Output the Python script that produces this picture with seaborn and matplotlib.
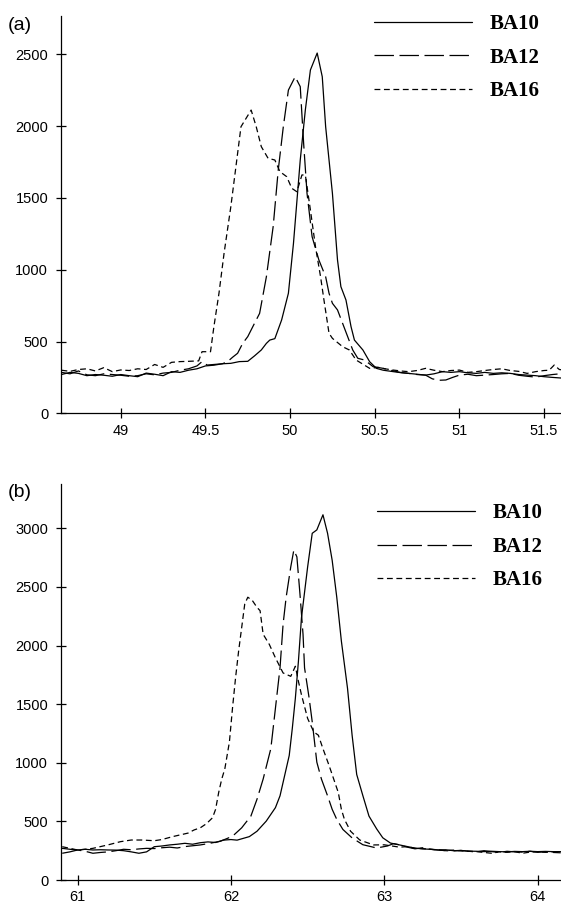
# XRD peak comparison, two panels
import matplotlib
import seaborn as sns
from matplotlib import font_manager

matplotlib.use("Agg")
import matplotlib.pyplot as plt

names = ["BA10", "BA12", "BA16"]

# panel (a)
x10a = [48.65, 48.70, 48.75, 48.80, 48.85, 48.90, 48.95, 49.00, 49.05, 49.10, 49.15, 49.20, 49.25, 49.30,
        49.35, 49.40, 49.45, 49.50, 49.55, 49.60, 49.65, 49.70, 49.75, 49.79, 49.83, 49.86, 49.88, 49.91,
        49.95, 49.99, 50.02, 50.06, 50.09, 50.12, 50.16, 50.19, 50.21, 50.25, 50.28, 50.30, 50.33, 50.36,
        50.38, 50.43, 50.47, 50.51, 50.55, 50.61, 50.66, 50.70, 50.75, 50.80, 50.85, 50.90, 50.95, 51.00,
        51.05, 51.10, 51.15, 51.20, 51.25, 51.30, 51.35, 51.40, 51.45, 51.50, 51.55, 51.62]
y10a = [270, 285, 278, 262, 270, 265, 258, 270, 262, 255, 280, 272, 262, 290, 285, 300, 310, 330, 335, 345,
        348, 360, 362, 400, 441, 487, 510, 520, 650, 836, 1184, 1764, 2112, 2391, 2509, 2344, 1996, 1532,
        1068, 882, 789, 603, 510, 441, 359, 313, 300, 290, 282, 278, 272, 266, 275, 290, 285, 290, 282, 278,
        285, 278, 282, 278, 270, 266, 262, 255, 250, 244]

x12a = [48.65, 48.70, 48.75, 48.80, 48.85, 48.90, 48.95, 49.00, 49.05, 49.10, 49.15, 49.20, 49.25, 49.30,
        49.35, 49.40, 49.45, 49.48, 49.51, 49.55, 49.60, 49.63, 49.66, 49.69, 49.72, 49.75, 49.79, 49.82,
        49.86, 49.90, 49.93, 49.96, 49.99, 50.03, 50.06, 50.08, 50.10, 50.13, 50.17, 50.21, 50.23, 50.25,
        50.28, 50.31, 50.34, 50.37, 50.40, 50.44, 50.49, 50.55, 50.60, 50.65, 50.70, 50.75, 50.80, 50.84,
        50.88, 50.92, 50.96, 51.00, 51.05, 51.10, 51.15, 51.20, 51.25, 51.30, 51.35, 51.40, 51.45, 51.50,
        51.55, 51.62]
y12a = [285, 275, 295, 268, 262, 275, 270, 265, 258, 262, 275, 268, 280, 285, 300, 310, 330, 360, 336, 340,
        345, 359, 390, 418, 487, 534, 627, 696, 951, 1300, 1694, 1996, 2251, 2344, 2275, 1880, 1532, 1230,
        1068, 951, 836, 766, 720, 627, 534, 441, 383, 371, 325, 313, 298, 285, 278, 270, 266, 240, 230, 232,
        250, 266, 272, 262, 266, 270, 275, 278, 265, 258, 252, 262, 270, 278]

x16a = [48.65, 48.70, 48.75, 48.80, 48.85, 48.90, 48.95, 49.00, 49.05, 49.10, 49.15, 49.20, 49.25, 49.30,
        49.35, 49.40, 49.46, 49.48, 49.53, 49.55, 49.58, 49.61, 49.65, 49.68, 49.71, 49.74, 49.77, 49.80,
        49.83, 49.87, 49.91, 49.94, 49.98, 50.01, 50.04, 50.07, 50.09, 50.12, 50.15, 50.18, 50.20, 50.23,
        50.25, 50.31, 50.35, 50.39, 50.47, 50.52, 50.56, 50.61, 50.66, 50.70, 50.75, 50.80, 50.85, 50.90,
        50.95, 51.00, 51.05, 51.10, 51.15, 51.20, 51.25, 51.30, 51.35, 51.40, 51.45, 51.50, 51.53, 51.56,
        51.59, 51.62]
y16a = [300, 292, 305, 310, 295, 318, 290, 302, 298, 310, 305, 340, 320, 355, 360, 362, 365, 429, 429, 603,
        836, 1114, 1439, 1717, 1996, 2054, 2112, 1996, 1857, 1776, 1764, 1683, 1648, 1567, 1543, 1660, 1660,
        1416, 1160, 951, 789, 557, 522, 464, 441, 371, 313, 320, 310, 301, 294, 290, 298, 313, 300, 290, 298,
        301, 285, 290, 298, 305, 310, 298, 292, 278, 290, 298, 300, 336, 305, 300]

# panel (b)
x10b = [60.90, 60.95, 61.00, 61.05, 61.10, 61.15, 61.20, 61.25, 61.30, 61.35, 61.40, 61.45, 61.50, 61.55,
        61.60, 61.65, 61.70, 61.75, 61.80, 61.85, 61.90, 61.95, 62.00, 62.04, 62.08, 62.12, 62.17, 62.23,
        62.29, 62.32, 62.35, 62.38, 62.40, 62.42, 62.44, 62.46, 62.50, 62.53, 62.56, 62.60, 62.63, 62.66,
        62.69, 62.72, 62.76, 62.79, 62.82, 62.86, 62.90, 62.95, 62.99, 63.04, 63.10, 63.15, 63.20, 63.25,
        63.30, 63.35, 63.40, 63.45, 63.50, 63.55, 63.60, 63.65, 63.70, 63.75, 63.80, 63.85, 63.90, 63.95,
        64.00, 64.05, 64.10, 64.15]
y10b = [270, 262, 256, 262, 256, 258, 256, 255, 250, 240, 228, 240, 284, 290, 299, 305, 313, 305, 318, 325,
        320, 340, 345, 340, 355, 370, 416, 502, 617, 718, 890, 1062, 1292, 1550, 1866, 2239, 2670, 2957,
        2986, 3115, 2957, 2727, 2412, 2038, 1636, 1235, 900, 720, 545, 436, 360, 315, 299, 285, 272, 265,
        262, 256, 258, 250, 252, 246, 245, 242, 245, 242, 240, 244, 242, 245, 242, 244, 242, 242]

x12b = [60.90, 60.95, 61.00, 61.05, 61.10, 61.15, 61.20, 61.25, 61.30, 61.35, 61.40, 61.45, 61.50, 61.55,
        61.60, 61.65, 61.70, 61.75, 61.80, 61.85, 61.93, 62.01, 62.07, 62.13, 62.17, 62.21, 62.26, 62.28,
        62.30, 62.32, 62.34, 62.36, 62.39, 62.41, 62.43, 62.45, 62.47, 62.48, 62.51, 62.53, 62.56, 62.59,
        62.63, 62.66, 62.69, 62.73, 62.79, 62.86, 62.95, 63.02, 63.06, 63.10, 63.15, 63.20, 63.25, 63.30,
        63.35, 63.40, 63.45, 63.50, 63.55, 63.60, 63.65, 63.70, 63.75, 63.80, 63.85, 63.90, 63.95, 64.00,
        64.05, 64.10, 64.15]
y12b = [228, 240, 256, 245, 228, 235, 240, 250, 262, 258, 265, 270, 268, 275, 280, 273, 285, 292, 299, 310,
        330, 373, 445, 545, 689, 861, 1120, 1349, 1579, 1809, 2182, 2412, 2670, 2814, 2756, 2440, 2096, 1809,
        1550, 1349, 1005, 861, 718, 603, 517, 431, 359, 301, 273, 290, 310, 300, 280, 266, 275, 262, 256,
        250, 248, 252, 245, 240, 250, 242, 235, 245, 240, 238, 245, 236, 240, 235, 232]

x16b = [60.90, 60.95, 61.00, 61.05, 61.10, 61.15, 61.20, 61.28, 61.35, 61.42, 61.50, 61.55, 61.62, 61.67,
        61.72, 61.76, 61.80, 61.84, 61.88, 61.90, 61.92, 61.94, 61.96, 61.99, 62.01, 62.03, 62.05, 62.07,
        62.09, 62.11, 62.14, 62.17, 62.19, 62.21, 62.25, 62.29, 62.34, 62.39, 62.42, 62.44, 62.46, 62.50,
        62.54, 62.57, 62.60, 62.64, 62.67, 62.70, 62.72, 62.74, 62.78, 62.84, 62.93, 63.00, 63.05, 63.10,
        63.15, 63.20, 63.25, 63.30, 63.35, 63.40, 63.45, 63.50, 63.55, 63.60, 63.65, 63.70, 63.75, 63.80,
        63.85, 63.90, 63.95, 64.00, 64.05, 64.10, 64.15]
y16b = [284, 270, 256, 262, 270, 285, 300, 327, 341, 341, 335, 345, 370, 385, 400, 427, 445, 480, 531, 603,
        746, 861, 947, 1177, 1464, 1723, 1952, 2153, 2354, 2412, 2383, 2325, 2297, 2096, 2010, 1895, 1766,
        1737, 1823, 1694, 1579, 1378, 1263, 1235, 1120, 976, 861, 746, 603, 517, 416, 341, 299, 300, 290,
        280, 285, 270, 268, 262, 258, 250, 255, 248, 245, 242, 235, 228, 240, 236, 242, 228, 238, 242, 236,
        240, 236]

xticks_a = [49, 49.5, 50, 50.5, 51, 51.5]
xticklabels_a = ["49", "49.5", "50", "50.5", "51", "51.5"]
yticks_a = [0, 500, 1000, 1500, 2000, 2500]
xticks_b = [61, 62, 63, 64]
xticklabels_b = ["61", "62", "63", "64"]
yticks_b = [0, 500, 1000, 1500, 2000, 2500, 3000]

sns.set_style("white")
plt.rcParams["lines.scale_dashes"] = False
plt.rcParams["text.color"] = "black"
installed = {f.name for f in font_manager.fontManager.ttflist}
if "Liberation Sans Narrow" in installed:
    tick_font, tick_size = "Liberation Sans Narrow", 12.5
else:
    tick_font, tick_size = "Liberation Sans", 10.5
plt.rcParams["font.family"] = [tick_font, "DejaVu Sans"]

styles = ["-", (0, (14, 4)), (0, (4.2, 2.6))]

W, H = 561, 907
fig = plt.figure(figsize=(W / 100, H / 100), dpi=100)
ax_a = fig.add_axes([61 / W, 1 - 413.3 / H, 500 / W, (413.3 - 16) / H])
ax_b = fig.add_axes([61 / W, 1 - 880 / H, 500 / W, (880 - 484.3) / H])

panels = [
    (ax_a, [(x10a, y10a), (x12a, y12a), (x16a, y16a)], (48.647, 51.60), (0, 2767),
     xticks_a, xticklabels_a, yticks_a, "(a)", 0.977, (0.626, 1.005)),
    (ax_b, [(x10b, y10b), (x12b, y12b), (x16b, y16b)], (60.892, 64.152), (0, 3375),
     xticks_b, xticklabels_b, yticks_b, "(b)", 0.98, (0.632, 0.952)),
]

for ax, series, xlim, ylim, xt, xtl, yt, tag, tag_y, leg_pos in panels:
    for (xs, ys), name, ls in zip(series, names, styles):
        sns.lineplot(x=xs, y=ys, ax=ax, color="black", lw=0.9, linestyle=ls, estimator=None)
        ax.lines[-1].set_label(name)
    ax.set_xlim(*xlim)
    ax.set_ylim(*ylim)
    ax.set_xticks(xt)
    ax.set_xticklabels(xtl)
    ax.set_yticks(yt)
    ax.set_xlabel("")
    ax.set_ylabel("")
    sns.despine(ax=ax)
    for s in ["left", "bottom"]:
        ax.spines[s].set_linewidth(0.9)
        ax.spines[s].set_color("black")
    ax.tick_params(axis="y", left=True, direction="inout", length=6.5, width=0.9, pad=6,
                   labelsize=tick_size, colors="black")
    ax.tick_params(axis="x", bottom=True, direction="inout", length=7, width=0.9, pad=4,
                   labelsize=tick_size, colors="black")
    leg = ax.legend(loc="upper left", bbox_to_anchor=leg_pos, frameon=False, borderpad=0,
                    borderaxespad=0, handlelength=4.7, handletextpad=0.85, labelspacing=0.65,
                    prop={"family": "Liberation Serif", "weight": "bold", "size": 15})
    for t in leg.get_texts():
        t.set_color("black")
    ax.text(-0.107, tag_y, tag, transform=ax.transAxes, ha="left", va="center",
            fontsize=14, family="Liberation Sans", color="black")

fig.savefig("out.png", dpi=100)
print("Saved out.png")
